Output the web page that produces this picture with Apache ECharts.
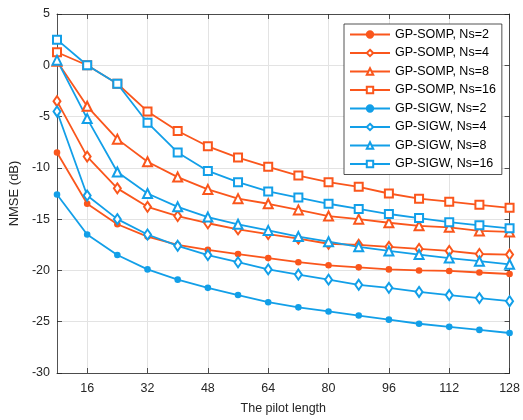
<!DOCTYPE html>
<html>
<head>
<meta charset="utf-8">
<script src="https://cdn.jsdelivr.net/npm/echarts@6/dist/echarts.min.js"></script>
<style>html,body{margin:0;padding:0;background:#fff}#c{width:523px;height:420px}</style>
</head>
<body>
<div id="c"></div>
<script>
var pilotLengths = [8,16,24,32,40,48,56,64,72,80,88,96,104,112,120,128];
var xTicks = [16,32,48,64,80,96,112,128];
var somp2  = [-8.5,-13.5,-15.5,-16.7,-17.5,-18.0,-18.4,-18.8,-19.2,-19.5,-19.7,-19.9,-20.0,-20.05,-20.2,-20.35];
var somp4  = [-3.5,-8.9,-12.0,-13.8,-14.7,-15.4,-16.0,-16.45,-16.9,-17.4,-17.5,-17.7,-17.9,-18.1,-18.4,-18.45];
var somp8  = [0.4,-4.0,-7.2,-9.4,-10.9,-12.1,-13.0,-13.5,-14.1,-14.7,-15.0,-15.35,-15.65,-15.8,-16.15,-16.25];
var somp16 = [1.27,0.0,-1.8,-4.5,-6.4,-7.9,-9.0,-9.9,-10.75,-11.4,-11.85,-12.5,-13.0,-13.3,-13.6,-13.9];
var sigw2  = [-12.6,-16.5,-18.5,-19.9,-20.9,-21.7,-22.4,-23.1,-23.6,-24.0,-24.4,-24.8,-25.2,-25.5,-25.8,-26.1];
var sigw4  = [-4.5,-12.7,-15.0,-16.5,-17.6,-18.5,-19.2,-19.9,-20.4,-20.9,-21.4,-21.7,-22.1,-22.4,-22.7,-23.0];
var sigw8  = [0.5,-5.2,-10.4,-12.5,-13.8,-14.8,-15.5,-16.1,-16.7,-17.2,-17.7,-18.1,-18.45,-18.8,-19.1,-19.4];
var sigw16 = [2.5,0.0,-1.8,-5.6,-8.5,-10.3,-11.4,-12.3,-12.9,-13.5,-14.0,-14.5,-14.9,-15.3,-15.6,-15.9];

var ORANGE = '#FA561C';
var BLUE = '#129FE8';
var FONT = 'Liberation Sans';
var TXT = '#262626';

function pairs(arr){ return pilotLengths.map(function(x,i){ return [x, arr[i]]; }); }
function mk(name, arr, color, symbol, size){
  return {
    name: name, type: 'line', data: pairs(arr),
    symbol: symbol, symbolSize: size, showSymbol: true,
    lineStyle: {color: color, width: 1.8},
    itemStyle: {color: color, borderColor: color, borderWidth: 1.6},
    emphasis: {disabled: true},
    animation: false, z: 3
  };
}
var series = [
  mk('GP-SOMP, Ns=2', somp2, ORANGE, 'circle', 5),
  mk('GP-SOMP, Ns=4', somp4, ORANGE, 'emptyDiamond', [7,10]),
  mk('GP-SOMP, Ns=8', somp8, ORANGE, 'emptyTriangle', 9),
  mk('GP-SOMP, Ns=16', somp16, ORANGE, 'emptyRect', 8),
  mk('GP-SIGW, Ns=2', sigw2, BLUE, 'circle', 5),
  mk('GP-SIGW, Ns=4', sigw4, BLUE, 'emptyDiamond', [7,10]),
  mk('GP-SIGW, Ns=8', sigw8, BLUE, 'emptyTriangle', 9),
  mk('GP-SIGW, Ns=16', sigw16, BLUE, 'emptyRect', 8)
];

var chart = echarts.init(document.getElementById('c'), null, {renderer: 'canvas'});
var axisLineStyle = {color: TXT, width: 0.8};
chart.setOption({
  backgroundColor: '#fff',
  animation: false,
  textStyle: {fontFamily: FONT},
  grid: {left: 57, right: 9, top: 14, bottom: 47, containLabel: false},
  legend: {
    left: 344, top: 24, orient: 'vertical',
    backgroundColor: '#fff', borderColor: TXT, borderWidth: 0.8,
    padding: [4, 6, 4, 5],
    itemWidth: 40, itemHeight: 8, itemGap: 5.5,
    textStyle: {fontFamily: FONT, fontSize: 12.5, color: '#000', lineHeight: 12},
    data: series.map(function(s){ return s.name; })
  },
  xAxis: [{
    type: 'value', min: 8, max: 128,
    name: 'The pilot length', nameLocation: 'middle', nameGap: 29,
    nameTextStyle: {fontFamily: FONT, fontSize: 12.5, color: TXT},
    axisLine: {show: true, onZero: false, lineStyle: axisLineStyle},
    axisTick: {show: true, inside: true, length: 5, customValues: xTicks, lineStyle: axisLineStyle},
    axisLabel: {customValues: xTicks, fontFamily: FONT, fontSize: 12.5, color: TXT, margin: 9},
    splitLine: {show: true, lineStyle: {color: '#e3e3e3', width: 1}}
  },{
    type: 'value', min: 8, max: 128, position: 'top',
    axisLine: {show: true, onZero: false, lineStyle: axisLineStyle},
    axisTick: {show: true, inside: true, length: 5, customValues: xTicks, lineStyle: axisLineStyle},
    axisLabel: {show: false, customValues: xTicks},
    splitLine: {show: false}
  }],
  yAxis: [{
    type: 'value', min: -30, max: 5, interval: 5,
    name: 'NMSE (dB)', nameLocation: 'middle', nameGap: 35,
    nameTextStyle: {fontFamily: FONT, fontSize: 13, color: TXT},
    axisLine: {show: true, onZero: false, lineStyle: axisLineStyle},
    axisTick: {show: true, inside: true, length: 5, lineStyle: axisLineStyle},
    axisLabel: {fontFamily: FONT, fontSize: 12.5, color: TXT, margin: 7},
    splitLine: {show: true, lineStyle: {color: '#e3e3e3', width: 1}}
  },{
    type: 'value', min: -30, max: 5, interval: 5, position: 'right',
    axisLine: {show: true, onZero: false, lineStyle: axisLineStyle},
    axisTick: {show: true, inside: true, length: 5, lineStyle: axisLineStyle},
    axisLabel: {show: false},
    splitLine: {show: false}
  }],
  series: series
});
</script>
</body>
</html>
